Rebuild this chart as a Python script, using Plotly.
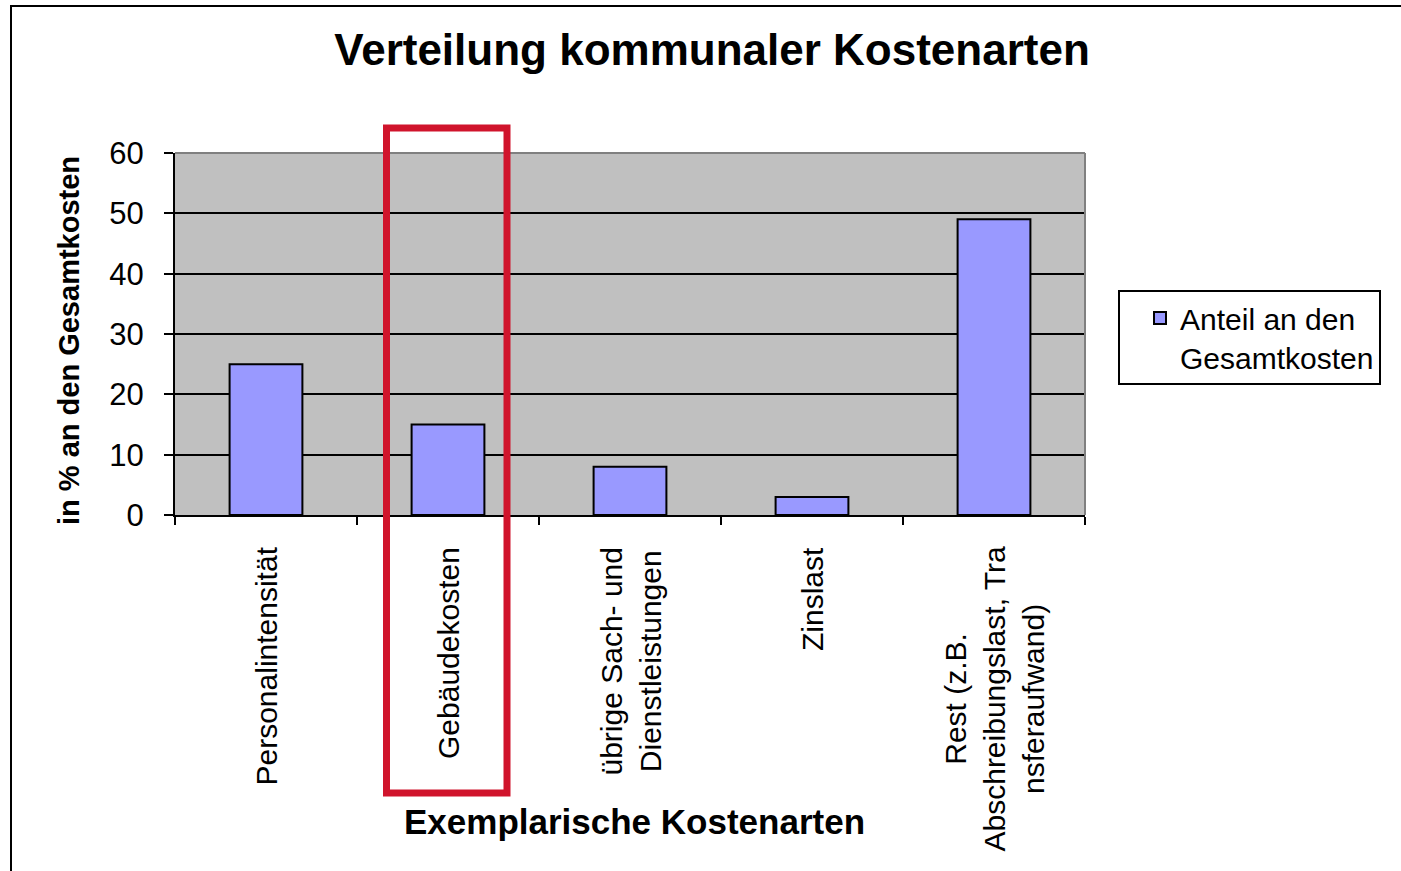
import plotly.graph_objects as go

categories = ["Personalintensität", "Gebäudekosten", "übrige Sach- und Dienstleistungen", "Zinslast",
              "Rest (z.B. Abschreibungslast, Transferaufwand)"]
category_labels = ["Personalintensität", "Gebäudekosten", "übrige Sach- und<br>Dienstleistungen", "Zinslast",
                   "Rest (z.B.<br>Abschreibungslast, Tra<br>nsferaufwand)"]
values = [25, 15, 8, 3, 49]
series_name = "Anteil an den<br>Gesamtkosten"
y_ticks = [0, 10, 20, 30, 40, 50, 60]

FONT = "Liberation Sans, Arial, sans-serif"
W, H = 1401, 871
L, R, T, B = 175, 1085, 153, 515  # screen pixels of plot area

def px_x(p):
    return (p - L) / (R - L)

def px_y(p):
    return (B - p) / (B - T)

fig = go.Figure()
fig.add_trace(go.Bar(
    x=categories, y=values, name=series_name,
    marker=dict(color="#9999FF", line=dict(color="black", width=2)),
    showlegend=True,
))

annotations = []
for cat, lab in zip(categories, category_labels):
    annotations.append(dict(
        x=cat, xref="x", y=px_y(545), yref="paper", text=lab, showarrow=False,
        textangle=-90, xanchor="center", yanchor="top", align="center",
        font=dict(family=FONT, size=30, color="black"),
    ))
annotations.append(dict(
    x=px_x(634), xref="paper", y=px_y(821), yref="paper", text="<b>Exemplarische Kostenarten</b>",
    showarrow=False, xanchor="center", yanchor="middle",
    font=dict(family=FONT, size=35, color="black"),
))
annotations.append(dict(
    x=px_x(69), xref="paper", y=px_y(341), yref="paper", text="<b>in % an den Gesamtkosten</b>",
    showarrow=False, xanchor="center", yanchor="middle", textangle=-90,
    font=dict(family=FONT, size=29, color="black"),
))

shapes = [
    # outer frame
    dict(type="rect", xref="paper", yref="paper", x0=px_x(11), x1=2.0, y0=-2.0, y1=px_y(6),
         line=dict(color="black", width=2), layer="below"),
    # plot border top/right (gray)
    dict(type="line", xref="paper", yref="paper", x0=0, x1=1, y0=1, y1=1,
         line=dict(color="#808080", width=2), layer="above"),
    dict(type="line", xref="paper", yref="paper", x0=1, x1=1, y0=0, y1=1,
         line=dict(color="#808080", width=2), layer="above"),
    # red highlight box
    dict(type="rect", xref="paper", yref="paper", x0=px_x(386.5), x1=px_x(507), y0=px_y(793), y1=px_y(128),
         line=dict(color="#D0142C", width=7), layer="above"),
]

fig.update_layout(
    width=W, height=H,
    margin=dict(l=L, r=W - R, t=T, b=H - B, autoexpand=False),
    paper_bgcolor="white", plot_bgcolor="#C0C0C0",
    title=dict(text="<b>Verteilung kommunaler Kostenarten</b>", x=712 / W, xref="container",
               xanchor="center", y=1 - 50 / H, yref="container", yanchor="middle",
               font=dict(family=FONT, size=44, color="black")),
    bargap=0.6,
    showlegend=True,
    legend=dict(x=px_x(1118), y=px_y(290), xanchor="left", yanchor="top",
                bgcolor="white", bordercolor="black", borderwidth=2,
                font=dict(family=FONT, size=30, color="black"), valign="top",
                indentation=20, itemwidth=30, tracegroupgap=0),
    xaxis=dict(type="category", range=[-0.5, 4.5], showticklabels=False, ticks="outside", tickson="boundaries",
               ticklen=8, tickwidth=2, tickcolor="black", showline=True, linecolor="black", linewidth=2,
               showgrid=False, zeroline=False, fixedrange=True),
    yaxis=dict(range=[0, 60], tickvals=y_ticks, ticks="outside", ticklen=9, tickwidth=2, tickcolor="black",
               showline=True, linecolor="black", linewidth=2, showgrid=True, gridcolor="black", gridwidth=1.5,
               zeroline=False, tickfont=dict(family=FONT, size=31, color="black"), ticklabelstandoff=14,
               fixedrange=True),
    annotations=annotations,
    shapes=shapes,
)

fig.write_html("out.html", config={"displayModeBar": False},
               post_script="document.body.style.margin='0px';document.body.style.overflow='hidden';")
